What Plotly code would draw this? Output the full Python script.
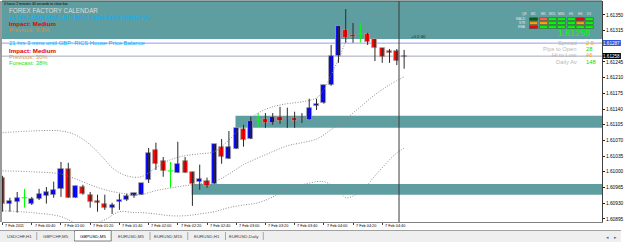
import plotly.graph_objects as go

# ---------------- data ----------------
opens = [1.60987, 1.60929, 1.60933, 1.60942, 1.60929, 1.60940, 1.60946, 1.60949, 1.60962, 1.61007,
         1.60942, 1.60966, 1.60949, 1.60935, 1.60929, 1.60920, 1.60933, 1.60937, 1.60946, 1.60949,
         1.60982, 1.61049, 1.61024, 1.61002, 1.60998, 1.61024, 1.61000, 1.60978, 1.60980, 1.60973,
         1.61056, 1.61029, 1.61051, 1.61096, 1.61073, 1.61116, 1.61118, 1.61109, 1.61123, 1.61118,
         1.61120, 1.61115, 1.61116, 1.61147, 1.61154, 1.61194, 1.61259, 1.61317, 1.61305, 1.61308,
         1.61308, 1.61296, 1.61276, 1.61270, 1.61270, 1.61256]
highs = [1.60991, 1.60942, 1.60955, 1.60962, 1.60944, 1.60962, 1.60966, 1.60978, 1.61022, 1.61020,
         1.60969, 1.60971, 1.60955, 1.60949, 1.60949, 1.60931, 1.60951, 1.60951, 1.60953, 1.60975,
         1.61053, 1.61065, 1.61033, 1.61022, 1.61067, 1.61033, 1.61000, 1.61016, 1.60987, 1.61062,
         1.61073, 1.61091, 1.61098, 1.61105, 1.61123, 1.61131, 1.61131, 1.61131, 1.61145, 1.61143,
         1.61134, 1.61131, 1.61163, 1.61163, 1.61194, 1.61283, 1.61325, 1.61363, 1.61332, 1.61332,
         1.61310, 1.61296, 1.61276, 1.61274, 1.61274, 1.61272]
lows = [1.60911, 1.60911, 1.60909, 1.60920, 1.60926, 1.60937, 1.60929, 1.60942, 1.60944, 1.60942,
        1.60942, 1.60949, 1.60920, 1.60911, 1.60915, 1.60906, 1.60915, 1.60935, 1.60942, 1.60949,
        1.60975, 1.61004, 1.60989, 1.60964, 1.60998, 1.60998, 1.60924, 1.60960, 1.60964, 1.60973,
        1.61018, 1.61029, 1.61051, 1.61056, 1.61073, 1.61100, 1.61098, 1.61105, 1.61107, 1.61098,
        1.61098, 1.61109, 1.61116, 1.61138, 1.61152, 1.61192, 1.61243, 1.61288, 1.61288, 1.61288,
        1.61283, 1.61247, 1.61243, 1.61243, 1.61238, 1.61230]
closes = [1.60929, 1.60935, 1.60942, 1.60942, 1.60940, 1.60951, 1.60955, 1.60960, 1.61007, 1.60942,
          1.60969, 1.60951, 1.60933, 1.60931, 1.60920, 1.60926, 1.60937, 1.60946, 1.60953, 1.60975,
          1.61042, 1.61018, 1.61002, 1.61002, 1.61018, 1.60998, 1.60973, 1.60984, 1.60969, 1.61062,
          1.61033, 1.61056, 1.61098, 1.61071, 1.61114, 1.61116, 1.61109, 1.61123, 1.61114, 1.61120,
          1.61114, 1.61117, 1.61143, 1.61152, 1.61194, 1.61259, 1.61325, 1.61299, 1.61301, 1.61308,
          1.61290, 1.61276, 1.61256, 1.61265, 1.61247, 1.61258]

bb_upper_idx = [0, 4, 8, 10, 12, 14, 15, 17, 19, 21, 23, 25, 27, 29, 31, 33, 35, 37, 39, 41, 43, 44,
                45, 46, 47, 48, 49, 50, 51, 52, 53, 54, 55]
bb_upper = [1.61087, 1.61091, 1.61091, 1.61082, 1.61060, 1.61027, 1.61009, 1.60991, 1.60989, 1.61009,
            1.61027, 1.61036, 1.61040, 1.61045, 1.61071, 1.61105, 1.61131, 1.61145, 1.61152, 1.61156,
            1.61165, 1.61183, 1.61216, 1.61250, 1.61290, 1.61321, 1.61334, 1.61346, 1.61352, 1.61357,
            1.61361, 1.61366, 1.61368]
bb_mid_idx = [0, 4, 8, 10, 12, 14, 16, 18, 19, 21, 23, 25, 27, 29, 31, 33, 35, 37, 39, 41, 43, 45,
              47, 49, 51, 53, 55]
bb_mid = [1.61002, 1.61000, 1.60995, 1.60984, 1.60971, 1.60960, 1.60953, 1.60949, 1.60949, 1.60958,
          1.60964, 1.60969, 1.60973, 1.60978, 1.60995, 1.61016, 1.61031, 1.61045, 1.61058, 1.61065,
          1.61073, 1.61094, 1.61118, 1.61145, 1.61172, 1.61194, 1.61212]
bb_lower_idx = [0, 4, 8, 10, 12, 14, 16, 18, 19, 21, 23, 25, 27, 29, 31, 33, 35, 37, 39, 41, 43, 44,
                45, 46, 47, 48, 49, 50, 51, 52, 53, 54, 55]
bb_lower = [1.60913, 1.60909, 1.60900, 1.60886, 1.60882, 1.60893, 1.60911, 1.60909, 1.60909, 1.60906,
            1.60902, 1.60902, 1.60906, 1.60911, 1.60920, 1.60926, 1.60931, 1.60944, 1.60964, 1.60971,
            1.60978, 1.60978, 1.60971, 1.60960, 1.60942, 1.60946, 1.60955, 1.60971, 1.60991, 1.61009,
            1.61027, 1.61042, 1.61053]

time_tick_idx = [0, 4, 8, 12, 16, 20, 24, 28, 32, 36, 40, 44, 48, 52]
time_tick_text = ["7 Feb 2011", "7 Feb 00:40", "7 Feb 01:00", "7 Feb 01:20", "7 Feb 01:40",
                  "7 Feb 02:00", "7 Feb 02:20", "7 Feb 02:40", "7 Feb 03:00", "7 Feb 03:20",
                  "7 Feb 03:40", "7 Feb 04:00", "7 Feb 04:20", "7 Feb 04:40"]
price_ticks = [1.61350, 1.61315, 1.61245, 1.61210, 1.61175, 1.61140, 1.61105, 1.61070,
               1.61035, 1.61000, 1.60965, 1.60930, 1.60895]
ask_price = 1.61287
bid_price = 1.61258
zone_top = (1.61296, 1.61381)
zone_mid = (1.61098, 1.61125)
zone_low = (1.60949, 1.60973)
zone_mid_start = 31.9
zone_low_start = 25.9
vline_idx = 54.3

tabs = ["USDCHF,H1", "GBPCHF,M5", "GBPUSD,M5", "EURUSD,M5", "EURUSD,M15", "EURUSD,H1", "EURUSD,Daily"]
tab_edges = [2, 37, 75, 112, 151, 189, 227, 265]
active_tab = 2

mtx_cols = ["Q8", "M1", "M5", "M15", "M30", "H1", "H4", "D1"]
mtx_rows = ["MACD", "STR", "EMA"]
mtx_colors = [["#006400", "#FF6347", "#00FF00", "#00FF00", "#00FF00", "#FF0000", "#00FF00"],
              ["#FFA500", "#FFA500", "#00FF00", "#00FF00", "#00FF00", "#FFA500", "#00FF00"],
              ["#FF0000", "#00FF00", "#00FF00", "#00FF00", "#00FF00", "#00FF00", "#00FF00"]]

# ---------------- geometry helpers ----------------
W, H = 625, 242
L, R, T, B = 2, 606, 1, 222
YMIN, YMAX = 1.60888, 1.61381
XMIN, XMAX = -0.08, 82.1


def px(X):
    return (X - L) / (R - L)


def py(Y):
    return (B - Y) / (B - T)


FONT = "Liberation Sans, Arial, sans-serif"
TEAL = "#5F9EA0"

fig = go.Figure()

# Bollinger bands
for xs, ys in [(bb_upper_idx, bb_upper), (bb_mid_idx, bb_mid), (bb_lower_idx, bb_lower)]:
    fig.add_trace(go.Scatter(x=xs, y=ys, mode="lines",
                             line=dict(color="#8C8C8C", width=1, dash="1px,1.6px", shape="spline"),
                             hoverinfo="skip", showlegend=False))

# wicks
wx, wy, dx, dy = [], [], [], []
for i in range(len(opens)):
    if opens[i] == closes[i]:
        dx += [i, i, None, i - 0.4, i + 0.4, None]
        dy += [lows[i], highs[i], None, opens[i], opens[i], None]
    else:
        wx += [i, i, None]
        wy += [lows[i], highs[i], None]
fig.add_trace(go.Scatter(x=wx, y=wy, mode="lines", line=dict(color="#2A2A2A", width=1),
                         hoverinfo="skip", showlegend=False))
fig.add_trace(go.Scatter(x=dx, y=dy, mode="lines", line=dict(color="#00FF00", width=1),
                         hoverinfo="skip", showlegend=False))

# bodies
bx, bbase, bh, bc = [], [], [], []
for i in range(len(opens)):
    if opens[i] == closes[i]:
        continue
    bx.append(i)
    lo = min(opens[i], closes[i])
    hgt = max(abs(closes[i] - opens[i]), 0.00003)
    bbase.append(lo)
    bh.append(hgt)
    bc.append("#0000FF" if closes[i] > opens[i] else "#FF0000")
fig.add_trace(go.Bar(x=bx, y=bh, base=bbase, width=0.7,
                     marker=dict(color=bc, line=dict(color="#A8A8A0", width=0.8)),
                     hoverinfo="skip", showlegend=False))

shapes = []
# zones
shapes.append(dict(type="rect", xref="paper", yref="y", x0=0, x1=1, y0=zone_top[0], y1=zone_top[1],
                   fillcolor=TEAL, line=dict(width=0), layer="below"))
shapes.append(dict(type="rect", xref="x", yref="y", x0=zone_mid_start, x1=XMAX, y0=zone_mid[0],
                   y1=zone_mid[1], fillcolor=TEAL, line=dict(width=0), layer="below"))
shapes.append(dict(type="rect", xref="x", yref="y", x0=zone_low_start, x1=XMAX, y0=zone_low[0],
                   y1=zone_low[1], fillcolor=TEAL, line=dict(width=0), layer="below"))
# ask / bid lines
shapes.append(dict(type="line", xref="paper", yref="y", x0=0, x1=1, y0=ask_price, y1=ask_price,
                   line=dict(color="#9A9AF0", width=1), layer="below"))
shapes.append(dict(type="line", xref="paper", yref="y", x0=0, x1=1, y0=bid_price, y1=bid_price,
                   line=dict(color="#A0A8B8", width=1), layer="below"))
# vertical line
shapes.append(dict(type="line", xref="x", yref="paper", x0=vline_idx, x1=vline_idx, y0=0, y1=1,
                   line=dict(color="#3A3A3A", width=1)))
# frame: left and top
shapes.append(dict(type="line", xref="paper", yref="paper", x0=px(1), x1=px(1), y0=0, y1=1,
                   line=dict(color="#9A9A9A", width=2)))
shapes.append(dict(type="line", xref="paper", yref="paper", x0=0, x1=1, y0=1, y1=1,
                   line=dict(color="#2F4F4F", width=1)))
# price boxes on axis
shapes.append(dict(type="rect", xref="paper", yref="paper", x0=px(607), x1=px(625), y0=py(46),
                   y1=py(40), fillcolor="#3355DD", line=dict(width=0)))
shapes.append(dict(type="rect", xref="paper", yref="paper", x0=px(607), x1=px(625), y0=py(59),
                   y1=py(53), fillcolor="#000000", line=dict(width=0)))
# tab bar
shapes.append(dict(type="rect", xref="paper", yref="paper", x0=px(0), x1=px(625), y0=py(242),
                   y1=py(230), fillcolor="#EFEFEF", line=dict(width=0)))
shapes.append(dict(type="line", xref="paper", yref="paper", x0=px(0), x1=px(625), y0=py(230.5),
                   y1=py(230.5), line=dict(color="#A0A0A0", width=1)))
shapes.append(dict(type="rect", xref="paper", yref="paper", x0=px(tab_edges[active_tab]),
                   x1=px(tab_edges[active_tab + 1]), y0=py(241), y1=py(230.5), fillcolor="#FFFFFF",
                   line=dict(color="#808080", width=1)))
for e in tab_edges[1:]:
    shapes.append(dict(type="line", xref="paper", yref="paper", x0=px(e), x1=px(e), y0=py(240),
                       y1=py(232), line=dict(color="#A8A8A8", width=1)))
# matrix cells
cell_x = [533, 543, 552, 561, 571, 580, 589]
cell_y = [17.7, 21.7, 25.7]
for r in range(3):
    for c in range(7):
        shapes.append(dict(type="rect", xref="paper", yref="paper", x0=px(cell_x[c]),
                           x1=px(cell_x[c] + 8.3), y0=py(cell_y[r] + 2.8), y1=py(cell_y[r]),
                           fillcolor=mtx_colors[r][c], line=dict(color="#404040", width=0.5)))

ann = []


def text(X, Y, s, size, color, anchor="left", bold=False, fam=FONT):
    ann.append(dict(xref="paper", yref="paper", x=px(X), y=py(Y), text=("<b>%s</b>" % s) if bold else s,
                    showarrow=False, xanchor=anchor, yanchor="middle",
                    font=dict(family=fam, size=size, color=color)))


# time labels
for i, s in zip(time_tick_idx, time_tick_text):
    ann.append(dict(xref="x", yref="paper", x=i + 0.1, y=py(226.5), text=s, showarrow=False,
                    xanchor="left", yanchor="middle", font=dict(family=FONT, size=3.8, color="#000000")))

# top-left texts
text(2, 4, "0 hours 2 minutes 40 seconds to close bar", 3.4, "#000000")
text(7, 10.5, "FOREX FACTORY CALENDAR", 6.3, "#DCDCDC")
text(7, 17, "21 hrs 3 mins until GBP: BRC Retail Sales Monitor y/y", 5.9, "#00B2FF")
text(7, 23.5, "Impact: Medium", 6.2, "#E00000", bold=True)
text(7, 30, "Previous: 0.3%", 6.0, "#D8903A")
text(7, 43.5, "21 hrs 3 mins until GBP: RICS House Price Balance", 5.9, "#00B2FF")
text(7, 50, "Impact: Medium", 6.2, "#E00000", bold=True)
text(7, 56.5, "Previous: 30%", 6.0, "#D8A050")
text(7, 63, "Forecast: 38%", 6.0, "#22E022")

# +0:2:40 label
text(412, 37, "+0:2:40", 4.3, "#202020")

# right panel
hx = [528, 537.5, 547, 556, 565, 575, 584, 593]
for X, s in zip(hx, mtx_cols):
    text(X, 14, s, 3.3, "#E8E8E8", anchor="center")
for Y, s in zip([19, 23, 27], mtx_rows):
    text(531.5, Y, s, 3.2, "#E8E8E8", anchor="right")
text(597, 33, "1.61258", 9, "#00FF00", anchor="right")
for Y, lab, val, col in [(43, "Spread", "2.9", "#FFA500"), (48.5, "Pips to Open", "28", "#00E000"),
                         (55, "Hi to Low", "46", "#FFA500"), (62, "Daily Av", "148", "#00E000")]:
    text(583, Y, lab, 5.8, "#B8B8B8", anchor="right")
    text(588, Y, val, 5.8, col)

# axis price boxes text
text(616, 43, "%.5f" % ask_price, 4.6, "#FFFFFF", anchor="center")
text(616, 56, "%.5f" % bid_price, 4.6, "#FFFFFF", anchor="center")

# tabs
for k, s in enumerate(tabs):
    text((tab_edges[k] + tab_edges[k + 1]) / 2, 236, s, 4.4, "#404040" if k != active_tab else "#000000",
         anchor="center")
text(612, 236.5, "◂", 5, "#707070", anchor="center", fam="DejaVu Sans")
text(620, 236.5, "▸", 5, "#707070", anchor="center", fam="DejaVu Sans")

fig.update_layout(
    width=W, height=H, margin=dict(l=L, r=W - R, t=T, b=H - B),
    paper_bgcolor="#FFFFFF", plot_bgcolor="#FFFFFF",
    barmode="overlay", bargap=0, showlegend=False,
    shapes=shapes, annotations=ann,
    xaxis=dict(range=[XMIN, XMAX], tickvals=time_tick_idx, ticktext=[""] * len(time_tick_idx),
               ticks="outside", ticklen=2, tickcolor="#404040", showgrid=False, zeroline=False,
               showline=True, linecolor="#808080", linewidth=1, fixedrange=True),
    yaxis=dict(range=[YMIN, YMAX], side="right", tickvals=price_ticks,
               ticktext=["%.5f" % v for v in price_ticks], ticks="outside", ticklen=2,
               tickcolor="#202020", tickfont=dict(family=FONT, size=4.8, color="#000000"),
               showgrid=False, zeroline=False, showline=True, linecolor="#404040", linewidth=1),
)

fig.write_html("out.html")
